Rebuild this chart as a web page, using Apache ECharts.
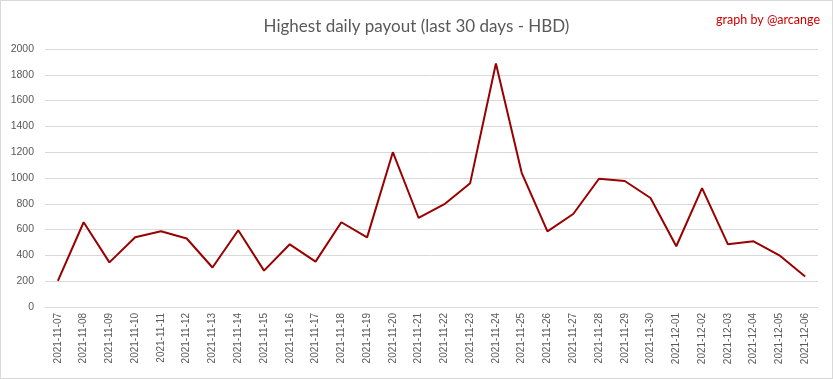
<!DOCTYPE html>
<html>
<head>
<meta charset="utf-8">
<script src="https://cdn.jsdelivr.net/npm/echarts@6/dist/echarts.min.js"></script>
<style>
html,body{margin:0;padding:0;background:#fff;}
#chart{width:833px;height:379px;box-sizing:border-box;border:1px solid #d9d9d9;}
</style>
</head>
<body>
<div id="chart"></div>
<script>
const categories = ["2021-11-07","2021-11-08","2021-11-09","2021-11-10","2021-11-11","2021-11-12","2021-11-13","2021-11-14","2021-11-15","2021-11-16","2021-11-17","2021-11-18","2021-11-19","2021-11-20","2021-11-21","2021-11-22","2021-11-23","2021-11-24","2021-11-25","2021-11-26","2021-11-27","2021-11-28","2021-11-29","2021-11-30","2021-12-01","2021-12-02","2021-12-03","2021-12-04","2021-12-05","2021-12-06"];
const payout = [203,657,346,540,587,531,306,595,282,486,352,657,540,1200,690,797,960,1888,1040,586,721,994,977,845,471,922,487,509,401,237];
const titleText = "Highest daily payout (last 30 days - HBD)";
const creditText = "graph by @arcange";

const chart = echarts.init(document.getElementById('chart'), null, {renderer:'canvas'});
chart.setOption({
  animation:false,
  backgroundColor:'#ffffff',
  title:[
    {text:titleText,left:'center',top:12,textStyle:{fontFamily:'Lato',fontSize:17,fontWeight:'normal',color:'#595959'}},
    {text:creditText,right:7,top:7,textStyle:{fontFamily:'Lato',fontSize:12.5,fontWeight:'normal',color:'#d00000'}}
  ],
  grid:{left:44,right:14,top:48,bottom:71,containLabel:false},
  xAxis:{
    type:'category',
    data:categories,
    boundaryGap:true,
    axisLine:{show:true,lineStyle:{color:'#d9d9d9',width:1}},
    axisTick:{show:false},
    axisLabel:{rotate:90,margin:6,fontFamily:'Liberation Sans',fontSize:10,color:'#595959',interval:0}
  },
  yAxis:{
    type:'value',
    min:0,max:2000,interval:200,
    axisLine:{show:false},
    axisTick:{show:false},
    splitLine:{lineStyle:{color:'#d9d9d9',width:1}},
    axisLabel:{margin:11,fontFamily:'Liberation Sans',fontSize:10.5,color:'#595959',formatter:function(v){return String(v);}}
  },
  series:[{
    type:'line',
    data:payout,
    showSymbol:false,
    symbol:'none',
    lineStyle:{color:'#990000',width:2},
    itemStyle:{color:'#990000'}
  }]
});
</script>
</body>
</html>
